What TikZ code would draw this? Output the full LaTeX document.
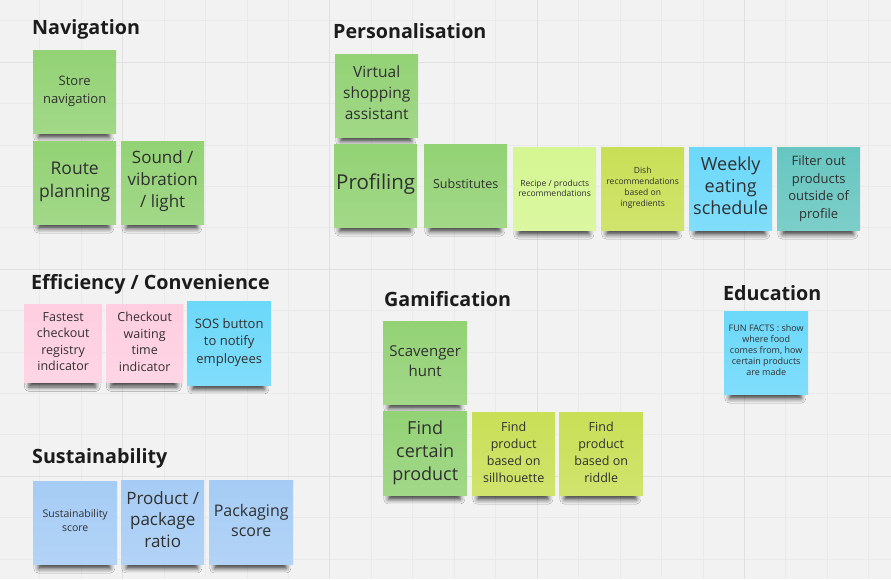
\documentclass[tikz,border=0pt]{standalone}
\usepackage{fontspec}
\setmainfont{Open Sans}
\usetikzlibrary{shadows.blur}
\definecolor{bg}{HTML}{F2F2F2}
\definecolor{minorc}{HTML}{EAEAEA}
\definecolor{majorc}{HTML}{E0E0E0}
\definecolor{txt}{HTML}{303030}
\definecolor{headc}{HTML}{1C1C1C}
\definecolor{dgreen}{HTML}{93D275}
\definecolor{lgreen}{HTML}{D5F692}
\definecolor{lime}{HTML}{C9DF56}
\definecolor{nblue}{HTML}{6CD8FA}
\definecolor{ncyan}{HTML}{67C6C0}
\definecolor{lpink}{HTML}{FFCEE0}
\definecolor{lblue}{HTML}{A6CCF5}
\newcommand\fs[2]{\fontsize{#1pt}{#2pt}\selectfont}
\newcommand\headfont{\fontsize{19.7pt}{23pt}\selectfont\bfseries}
\begin{document}
\begin{tikzpicture}[x=1pt,y=-1pt,
  sticky/.style={anchor=north west, minimum width=83pt, minimum height=83pt,
    inner sep=0pt,
    blur shadow={shadow xshift=-1pt, shadow yshift=-12pt, shadow scale=0.86,
      shadow blur radius=5pt, shadow opacity=70}},
  note/.style={sticky, top color=#1, bottom color=#1!86!white},
  stxt/.style={align=center, text=txt, inner sep=0pt},
  head/.style={anchor=base west, font=\headfont, text=headc, inner sep=0pt},
  minorline/.style={draw=minorc, line width=0.6pt},
  majorline/.style={draw=majorc, line width=0.9pt}]
\useasboundingbox (0,0) rectangle (891,579);
\fill[bg] (0,0) rectangle (891,579);
\foreach \i in {0,...,20} {\draw[minorline] ({39.6+\i*41.45},0) -- ({39.6+\i*41.45},579);}
\foreach \j in {0,...,13} {\draw[minorline] (0,{20.6+\j*41.4}) -- (891,{20.6+\j*41.4});}
\foreach \x in {122.5,329.8,537.05,744.3} {\draw[majorline] (\x,0) -- (\x,579);}
\foreach \y in {62,269,476} {\draw[majorline] (0,\y) -- (891,\y);}

% Navigation
\node[head] (hnav) at (32,34) {Navigation};
\node[note=dgreen] (storenav) at (33,50) {};
\node[stxt, font=\fs{13}{18}] (storenav-t) at (storenav.center) {Store\\navigation};
\node[note=dgreen] (route) at (33,141) {};
\node[stxt, font=\fs{17.5}{23}] (route-t) at ([yshift=1pt]route.center) {Route\\planning};
\node[note=dgreen] (sound) at (121,141) {};
\node[stxt, font=\fs{17}{22}] (sound-t) at ([yshift=2pt]sound.center) {Sound /\\vibration\\/ light};

% Personalisation
\node[head] (hpers) at (333,38) {Personalisation};
\node[note=dgreen] (virtual) at (335,54) {};
\node[stxt, font=\fs{15.5}{21}] (virtual-t) at ([yshift=3pt]virtual.center) {Virtual\\shopping\\assistant};
\node[note=dgreen] (profiling) at (334,144) {};
\node[stxt, font=\fs{20.5}{24}] (profiling-t) at ([yshift=2pt]profiling.center) {Profiling};
\node[note=dgreen] (subst) at (424,144) {};
\node[stxt, font=\fs{12.5}{16}] (subst-t) at ([yshift=1.5pt]subst.center) {Substitutes};
\node[note=lgreen] (recipe) at (513,147) {};
\node[stxt, font=\fs{8.5}{10}] (recipe-t) at (recipe.center) {Recipe / products\\recommendations};
\node[note=lime] (dish) at (601,147) {};
\node[stxt, font=\fs{8.5}{11}] (dish-t) at ([yshift=0.5pt]dish.center) {Dish\\recommendations\\based on\\ingredients};
\node[note=nblue] (weekly) at (689,147) {};
\node[stxt, font=\fs{18}{22}] (weekly-t) at ([yshift=3pt]weekly.center) {Weekly\\eating\\schedule};
\node[note=ncyan] (filter) at (777,147) {};
\node[stxt, font=\fs{13}{17.5}] (filter-t) at (filter.center) {Filter out\\products\\outside of\\profile};

% Efficiency / Convenience
\node[head] (heff) at (31,289) {Efficiency / Convenience};
\node[note=lpink, minimum width=78pt, minimum height=78pt] (fastest) at (24,304) {};
\node[stxt, font=\fs{12.5}{16.5}] (fastest-t) at ([yshift=1.5pt]fastest.center) {Fastest\\checkout\\registry\\indicator};
\node[note=lpink, minimum width=77pt, minimum height=78pt] (waiting) at (106,304) {};
\node[stxt, font=\fs{12.5}{16.5}] (waiting-t) at ([yshift=1.5pt]waiting.center) {Checkout\\waiting\\time\\indicator};
\node[note=nblue, minimum width=84pt, minimum height=84pt] (sos) at (187,301) {};
\node[stxt, font=\fs{13}{17.5}] (sos-t) at ([yshift=1pt]sos.center) {SOS button\\to notify\\employees};

% Gamification
\node[head] (hgam) at (384,306) {Gamification};
\node[note=dgreen, minimum width=84pt] (scav) at (383,321) {};
\node[stxt, font=\fs{15}{20}] (scav-t) at ([yshift=2pt]scav.center) {Scavenger\\hunt};
\node[note=dgreen, minimum width=84pt, minimum height=84pt] (certain) at (383,411) {};
\node[stxt, font=\fs{18}{23}] (certain-t) at ([yshift=0.5pt]certain.center) {Find\\certain\\product};
\node[note=lime] (sil) at (472,412) {};
\node[stxt, font=\fs{12.5}{17}] (sil-t) at ([yshift=1pt]sil.center) {Find\\product\\based on\\sillhouette};
\node[note=lime, minimum width=84pt] (riddle) at (559,412) {};
\node[stxt, font=\fs{12.5}{17}] (riddle-t) at ([yshift=1pt]riddle.center) {Find\\product\\based on\\riddle};

% Education
\node[head] (hedu) at (723,300) {Education};
\node[note=nblue, minimum width=84pt] (fun) at (724,311) {};
\node[stxt, font=\fs{9}{11}] (fun-t) at ([yshift=2.5pt]fun.center) {FUN FACTS : show\\where food\\comes from, how\\certain products\\are made};

% Sustainability
\node[head] (hsus) at (32,463) {Sustainability};
\node[note=lblue, minimum width=84pt] (susscore) at (33,481) {};
\node[stxt, font=\fs{10.5}{14}] (susscore-t) at ([yshift=2pt]susscore.center) {Sustainability\\score};
\node[note=lblue, minimum height=84pt] (ratio) at (121,480) {};
\node[stxt, font=\fs{17}{21.5}] (ratio-t) at ([yshift=3pt]ratio.center) {Product /\\package\\ratio};
\node[note=lblue, minimum width=84pt, minimum height=84pt] (pack) at (209,480) {};
\node[stxt, font=\fs{16}{20}] (pack-t) at ([yshift=2pt]pack.center) {Packaging\\score};
\end{tikzpicture}
\end{document}
